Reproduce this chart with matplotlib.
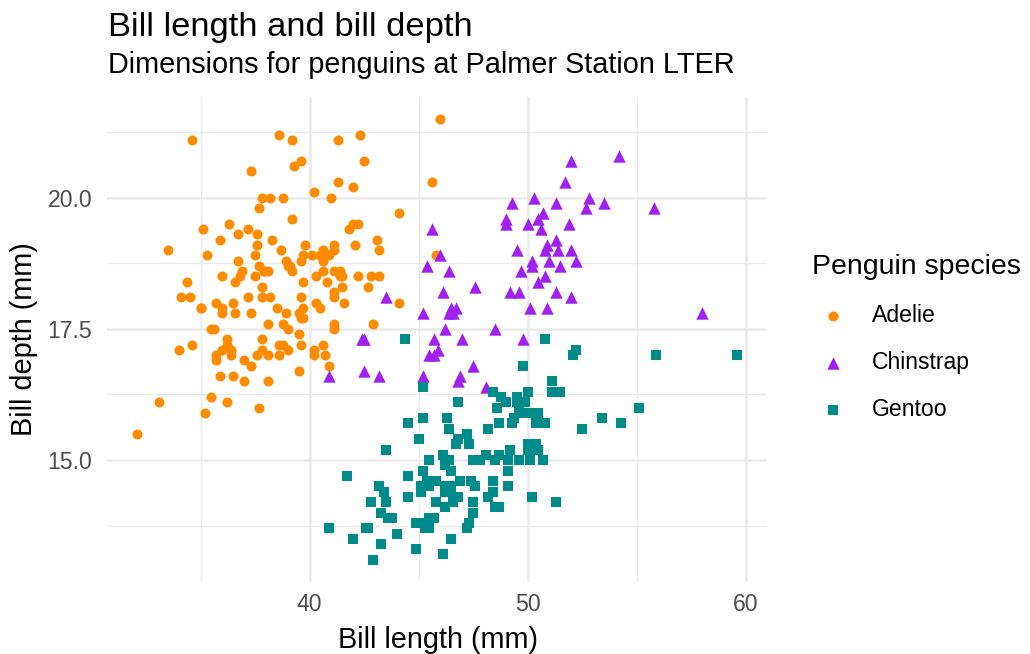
import matplotlib.pyplot as plt
from matplotlib.ticker import MultipleLocator

plt.rcParams['font.family'] = ['Liberation Sans', 'DejaVu Sans']

# Adelie: bill length / bill depth (mm)
adelie_len = [39.1, 39.5, 40.3, 36.7, 39.3, 38.9, 39.2, 34.1, 42.0, 37.8, 37.8, 41.1, 38.6, 34.6,
              36.6, 38.7, 42.5, 34.4, 46.0, 37.8, 37.7, 35.9, 38.2, 38.8, 35.3, 40.6, 40.5, 37.9,
              40.5, 39.5, 37.2, 39.5, 40.9, 36.4, 39.2, 38.8, 42.2, 37.6, 39.8, 36.5, 40.8, 36.0,
              44.1, 37.0, 39.6, 41.1, 37.5, 36.0, 42.3, 39.6, 40.1, 35.0, 42.0, 34.5, 41.4, 39.0,
              40.6, 36.5, 37.6, 35.7, 41.3, 37.6, 41.1, 36.4, 41.6, 35.5, 41.1, 35.9, 41.8, 33.5,
              39.7, 39.6, 45.8, 35.5, 42.8, 40.9, 37.2, 36.2, 42.1, 34.6, 42.9, 36.7, 35.1, 37.3,
              41.3, 36.3, 36.9, 38.3, 38.9, 35.7, 41.1, 34.0, 39.6, 36.2, 40.8, 38.1, 40.3, 33.1,
              43.2, 35.0, 41.0, 37.7, 37.8, 37.9, 39.7, 38.6, 38.2, 38.1, 43.2, 38.1, 45.6, 39.7,
              42.2, 39.6, 42.7, 38.6, 37.3, 35.7, 41.1, 36.2, 37.7, 40.2, 41.4, 35.2, 40.6, 38.8,
              41.5, 39.0, 44.1, 38.5, 43.1, 36.8, 37.5, 38.1, 41.1, 35.6, 40.2, 37.0, 39.7, 40.2,
              40.6, 32.1, 40.7, 37.3, 39.0, 39.2, 36.6, 36.0, 37.8, 36.0, 41.5]
adelie_dep = [18.7, 17.4, 18.0, 19.3, 20.6, 17.8, 19.6, 18.1, 20.2, 17.1, 17.3, 17.6, 21.2, 21.1,
              17.8, 19.0, 20.7, 18.4, 21.5, 18.3, 18.7, 19.2, 18.1, 17.2, 18.9, 18.6, 17.9, 18.6,
              18.9, 16.7, 18.1, 17.8, 18.9, 17.0, 21.1, 20.0, 18.5, 19.3, 19.1, 18.0, 18.4, 18.5,
              19.7, 16.9, 18.8, 19.0, 18.9, 17.9, 21.2, 17.7, 18.9, 17.9, 19.5, 18.1, 18.6, 17.5,
              18.8, 16.6, 19.1, 16.9, 21.1, 17.0, 18.2, 17.1, 18.0, 16.2, 19.1, 16.6, 19.4, 19.0,
              18.4, 17.2, 18.9, 17.5, 18.5, 16.8, 19.4, 16.1, 19.1, 17.2, 17.6, 18.8, 19.4, 17.8,
              20.3, 19.5, 18.6, 19.2, 18.8, 18.0, 18.1, 17.1, 18.1, 17.3, 18.9, 18.6, 18.5, 16.1,
              18.5, 17.9, 20.0, 16.0, 20.0, 18.6, 18.9, 17.2, 20.0, 17.0, 19.0, 16.5, 20.3, 17.7,
              19.5, 20.7, 18.3, 17.0, 20.5, 17.0, 18.6, 17.2, 19.8, 17.0, 18.5, 15.9, 19.0, 17.6,
              18.3, 17.1, 18.0, 17.9, 19.2, 18.5, 18.5, 17.6, 17.5, 17.5, 20.1, 16.5, 17.9, 17.1,
              17.2, 15.5, 17.0, 16.8, 18.7, 18.6, 18.4, 17.8, 18.1, 17.1, 18.5]

# Chinstrap
chinstrap_len = [46.5, 50.0, 51.3, 45.4, 52.7, 45.2, 46.1, 51.3, 46.0, 51.3, 46.6, 51.7, 47.0, 52.0,
                 45.9, 50.5, 50.3, 58.0, 46.4, 49.2, 42.4, 48.5, 43.2, 50.6, 46.7, 52.0, 50.5, 49.5,
                 46.4, 52.8, 40.9, 54.2, 42.5, 51.0, 49.7, 47.5, 47.6, 52.0, 46.9, 53.5, 49.0, 46.2,
                 50.9, 45.5, 50.9, 50.8, 50.1, 49.0, 51.5, 49.8, 48.1, 51.4, 45.7, 50.7, 42.5, 52.2,
                 45.2, 49.3, 50.2, 45.6, 51.9, 46.8, 45.7, 55.8, 43.5, 49.6, 50.8, 50.2]
chinstrap_dep = [17.9, 19.5, 19.2, 18.7, 19.8, 17.8, 18.2, 18.2, 18.9, 19.9, 17.8, 20.3, 17.3, 18.1,
                 17.1, 19.6, 20.0, 17.8, 18.6, 18.2, 17.3, 17.5, 16.6, 19.4, 17.9, 19.0, 18.4, 19.0,
                 17.8, 20.0, 16.6, 20.8, 16.7, 18.8, 18.6, 16.8, 18.3, 20.7, 16.6, 19.9, 19.5, 17.5,
                 19.1, 17.0, 17.9, 18.5, 17.9, 19.6, 18.7, 17.3, 16.4, 19.0, 17.3, 19.7, 17.3, 18.8,
                 16.6, 19.9, 18.8, 19.4, 19.5, 16.5, 17.0, 19.8, 18.1, 18.2, 19.0, 18.7]

# Gentoo
gentoo_len = [46.1, 50.0, 48.7, 50.0, 47.6, 46.5, 45.4, 46.7, 43.3, 46.8, 40.9, 49.0, 45.5, 48.4,
              45.8, 49.3, 42.0, 49.2, 46.2, 48.7, 50.2, 45.1, 46.5, 46.3, 42.9, 46.1, 44.5, 47.8,
              48.2, 50.0, 47.3, 42.8, 45.1, 59.6, 49.1, 48.4, 42.6, 44.4, 44.0, 48.7, 42.7, 49.6,
              45.3, 49.6, 50.5, 43.6, 45.5, 50.5, 44.9, 45.2, 46.6, 48.5, 45.1, 50.1, 46.5, 45.0,
              43.8, 45.5, 43.2, 50.4, 45.3, 46.2, 45.7, 54.3, 45.8, 49.8, 46.2, 49.5, 43.5, 50.7,
              47.7, 46.4, 48.2, 46.5, 46.4, 48.6, 47.5, 51.1, 45.2, 45.2, 49.1, 52.5, 47.4, 50.0,
              44.9, 50.8, 43.4, 51.3, 47.5, 52.1, 47.5, 52.2, 45.5, 49.5, 44.5, 50.8, 49.4, 46.9,
              48.4, 51.1, 48.5, 55.9, 47.2, 49.1, 47.3, 46.8, 41.7, 53.4, 43.3, 48.1, 50.5, 49.8,
              43.5, 51.5, 46.2, 55.1, 44.5, 48.8, 47.2, 46.8, 50.4, 45.2, 49.9]
gentoo_dep = [13.2, 16.3, 14.1, 15.2, 14.5, 13.5, 14.6, 15.3, 13.4, 15.4, 13.7, 16.1, 13.7, 14.6,
              14.6, 15.7, 13.5, 15.2, 14.5, 15.1, 14.3, 14.5, 14.5, 15.8, 13.1, 15.1, 14.3, 15.0,
              14.3, 15.3, 15.3, 14.2, 14.5, 17.0, 14.8, 16.3, 13.7, 17.3, 13.6, 15.7, 13.7, 16.0,
              13.7, 15.0, 15.9, 13.9, 13.9, 15.9, 13.3, 15.8, 14.2, 14.1, 14.4, 15.0, 14.4, 15.4,
              13.9, 15.0, 14.5, 15.3, 13.8, 14.9, 13.9, 15.7, 14.2, 16.8, 14.4, 16.2, 14.2, 15.0,
              15.0, 15.6, 15.6, 14.8, 15.0, 16.0, 14.2, 16.3, 13.8, 16.4, 14.5, 15.6, 14.6, 15.9,
              13.8, 17.3, 14.4, 14.2, 14.0, 17.0, 15.0, 17.1, 14.5, 16.1, 14.7, 15.7, 15.8, 14.6,
              14.4, 16.5, 15.0, 17.0, 15.5, 15.0, 13.8, 16.1, 14.7, 15.8, 14.0, 15.1, 15.2, 15.9,
              15.2, 16.3, 14.1, 16.0, 15.7, 16.2, 13.7, 14.3, 15.7, 14.8, 16.1]

species = ['Adelie', 'Chinstrap', 'Gentoo']
colors = ['#FF8C00', '#A020F0', '#008B8B']
markers = ['o', '^', 's']
sizes = [52, 80, 56]

fig = plt.figure(figsize=(10.3, 6.54), dpi=100)
ax = fig.add_axes([0.1042, 0.1104, 0.6403, 0.7417])

data = [(adelie_len, adelie_dep), (chinstrap_len, chinstrap_dep), (gentoo_len, gentoo_dep)]
for (xs, ys), name, c, m, s in zip(data, species, colors, markers, sizes):
    ax.scatter(xs, ys, s=s, c=c, marker=m, linewidths=0, label=name, zorder=3)

ax.set_xlim(30.725, 60.975)
ax.set_ylim(12.68, 21.92)
ax.xaxis.set_major_locator(MultipleLocator(10))
ax.xaxis.set_minor_locator(MultipleLocator(5))
ax.yaxis.set_major_locator(MultipleLocator(2.5))
ax.yaxis.set_minor_locator(MultipleLocator(1.25))
ax.yaxis.set_major_formatter(lambda v, p: f'{v:.1f}')

ax.grid(which='major', color='#EBEBEB', linewidth=1.8)
ax.grid(which='minor', color='#EBEBEB', linewidth=1.0)
ax.set_axisbelow(True)
for sp in ax.spines.values():
    sp.set_visible(False)
ax.tick_params(which='both', length=0)
ax.tick_params(labelsize=16.6, labelcolor='#4D4D4D')
ax.tick_params(axis='x', pad=8)
ax.tick_params(axis='y', pad=11)

fig.text(0.4248, 0.0095, 'Bill length (mm)', fontsize=20.8, ha='center', va='baseline')
fig.text(0.0235, 0.4817, 'Bill depth (mm)', fontsize=20.8, rotation=90, ha='center', va='center')

fig.text(0.1048, 0.9445, 'Bill length and bill depth', fontsize=24.8, va='baseline')
fig.text(0.1048, 0.8890, 'Dimensions for penguins at Palmer Station LTER', fontsize=20.8, va='baseline')

fig.legend(loc='upper left', bbox_to_anchor=(0.777, 0.630), frameon=False, borderpad=0,
           title='Penguin species', title_fontsize=20.5, fontsize=16.6,
           labelspacing=1.05, handlelength=1.8, handletextpad=0.79, alignment='left')

fig.savefig('out.png', dpi=100)
